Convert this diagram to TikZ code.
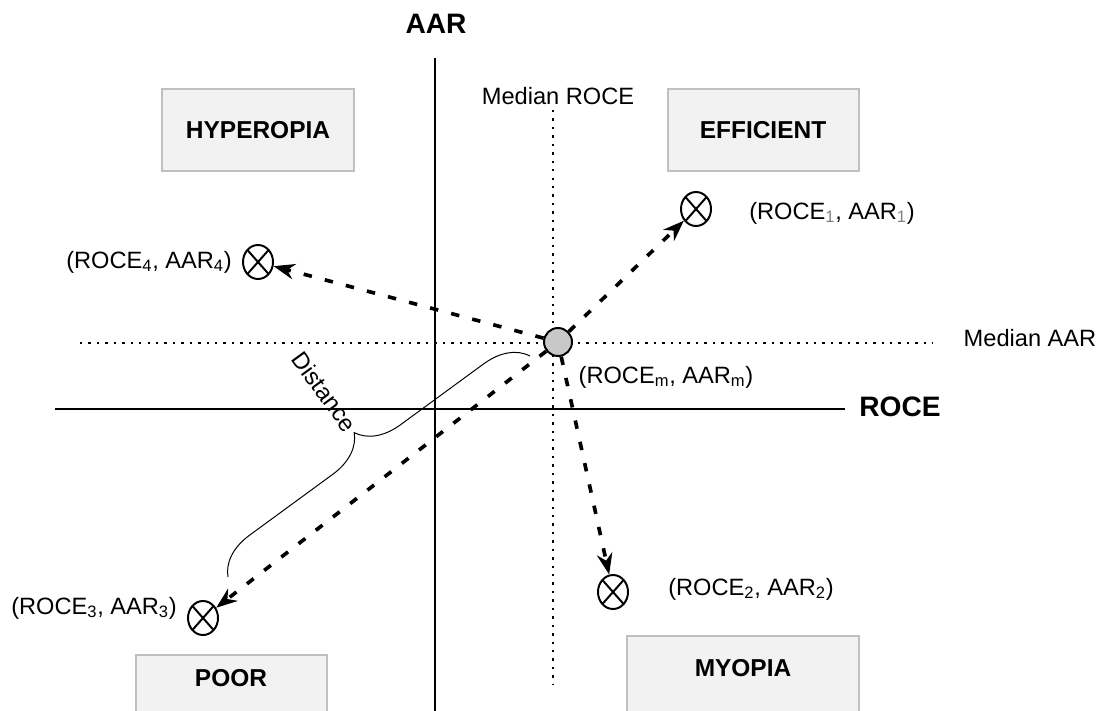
\documentclass[tikz,border=0pt]{standalone}
\usepackage{fontspec}
\setmainfont{Liberation Sans}
\usetikzlibrary{arrows.meta, shapes.geometric, decorations.pathreplacing}

\definecolor{boxgray}{HTML}{F2F2F2}
\definecolor{bordergray}{HTML}{C0C0C0}
\definecolor{centregray}{HTML}{C8C8C8}

\tikzset{
    lbl/.style={font=\fontsize{16.8}{19}\selectfont, inner sep=1pt},
    axislbl/.style={font=\fontsize{20}{24}\selectfont\bfseries},
    regionlbl/.style={font=\fontsize{17.4}{20}\selectfont\bfseries},
    region/.style={fill=boxgray, draw=bordergray, line width=0.8pt},
    axis/.style={line width=1.8pt},
    median/.style={line width=1.7pt, dash pattern=on 1.7pt off 4.3pt},
    shiftarrow/.style={line width=2.6pt, dash pattern=on 6pt off 9.5pt, -{Stealth[length=15pt, width=11pt]}},
    obs/.style={ellipse, draw, line width=1.4pt, minimum width=0.75cm, minimum height=0.85cm, inner sep=0pt,
        path picture={\draw[line width=1.4pt] (path picture bounding box.north west) -- (path picture bounding box.south east)
            (path picture bounding box.north east) -- (path picture bounding box.south west);}},
    centre/.style={circle, draw, fill=centregray, line width=1.4pt, minimum size=0.7cm, inner sep=0pt},
    distbrace/.style={decorate, decoration={brace, amplitude=1.05cm}, line width=0.7pt}
}

\begin{document}
\begin{tikzpicture}[x=0.025cm, y=-0.025cm]
    \useasboundingbox (0,0) rectangle (1108,710);

    % Regions
    \draw[region] (162,89) rectangle (354,171);
    \node[regionlbl] (hyperopia) at (258,130) {HYPEROPIA};
    \draw[region] (668,89) rectangle (859,171);
    \node[regionlbl] (efficient) at (763,130) {EFFICIENT};
    \draw[region] (136,655) rectangle (327,715);
    \node[regionlbl] (poor) at (231,678) {POOR};
    \draw[region] (627,636) rectangle (859,715);
    \node[regionlbl] (myopia) at (743,668) {MYOPIA};

    % Axes
    \draw[axis] (55,409) -- (845,409);
    \node[axislbl] (roce) at (900,407) {ROCE};
    \draw[axis] (435,58) -- (435,712);
    \node[axislbl] (aar) at (436,24) {AAR};

    % Medians
    \draw[median] (80,343) -- (933,343);
    \node[lbl] (medaar) at (1030,338) {Median AAR};
    \draw[median] (553,110) -- (553,685);
    \node[lbl] (medroce) at (558,96) {Median ROCE};

    % Median point and observations
    \node[centre] (m) at (558,342) {};
    \node[lbl] (lm) at (666,377) {(ROCE\textsubscript{m}, AAR\textsubscript{m})};
    \node[obs] (p1) at (696,209) {};
    \node[lbl] (l1) at (832,213) {(ROCE\textsubscript{\color{gray}1}, AAR\textsubscript{\color{gray}1})};
    \node[obs] (p2) at (613,592) {};
    \node[lbl] (l2) at (751,589) {(ROCE\textsubscript{2}, AAR\textsubscript{2})};
    \node[obs] (p3) at (203,618) {};
    \node[lbl] (l3) at (94,608) {(ROCE\textsubscript{3}, AAR\textsubscript{3})};
    \node[obs] (p4) at (258,262) {};
    \node[lbl] (l4) at (149,262) {(ROCE\textsubscript{4}, AAR\textsubscript{4})};

    \draw[shiftarrow] (m) -- (p1);
    \draw[shiftarrow] (m) -- (p2);
    \draw[shiftarrow] (m) -- (p3);
    \draw[shiftarrow] (m) -- (p4);

    % Distance
    \coordinate (bl) at (228,577);
    \coordinate (bu) at (530,356);
    \draw[distbrace] (bl) -- (bu)
        node[lbl, midway, anchor=east, rotate=-54, xshift=-1.12cm] (dist) {Distance};
\end{tikzpicture}
\end{document}
